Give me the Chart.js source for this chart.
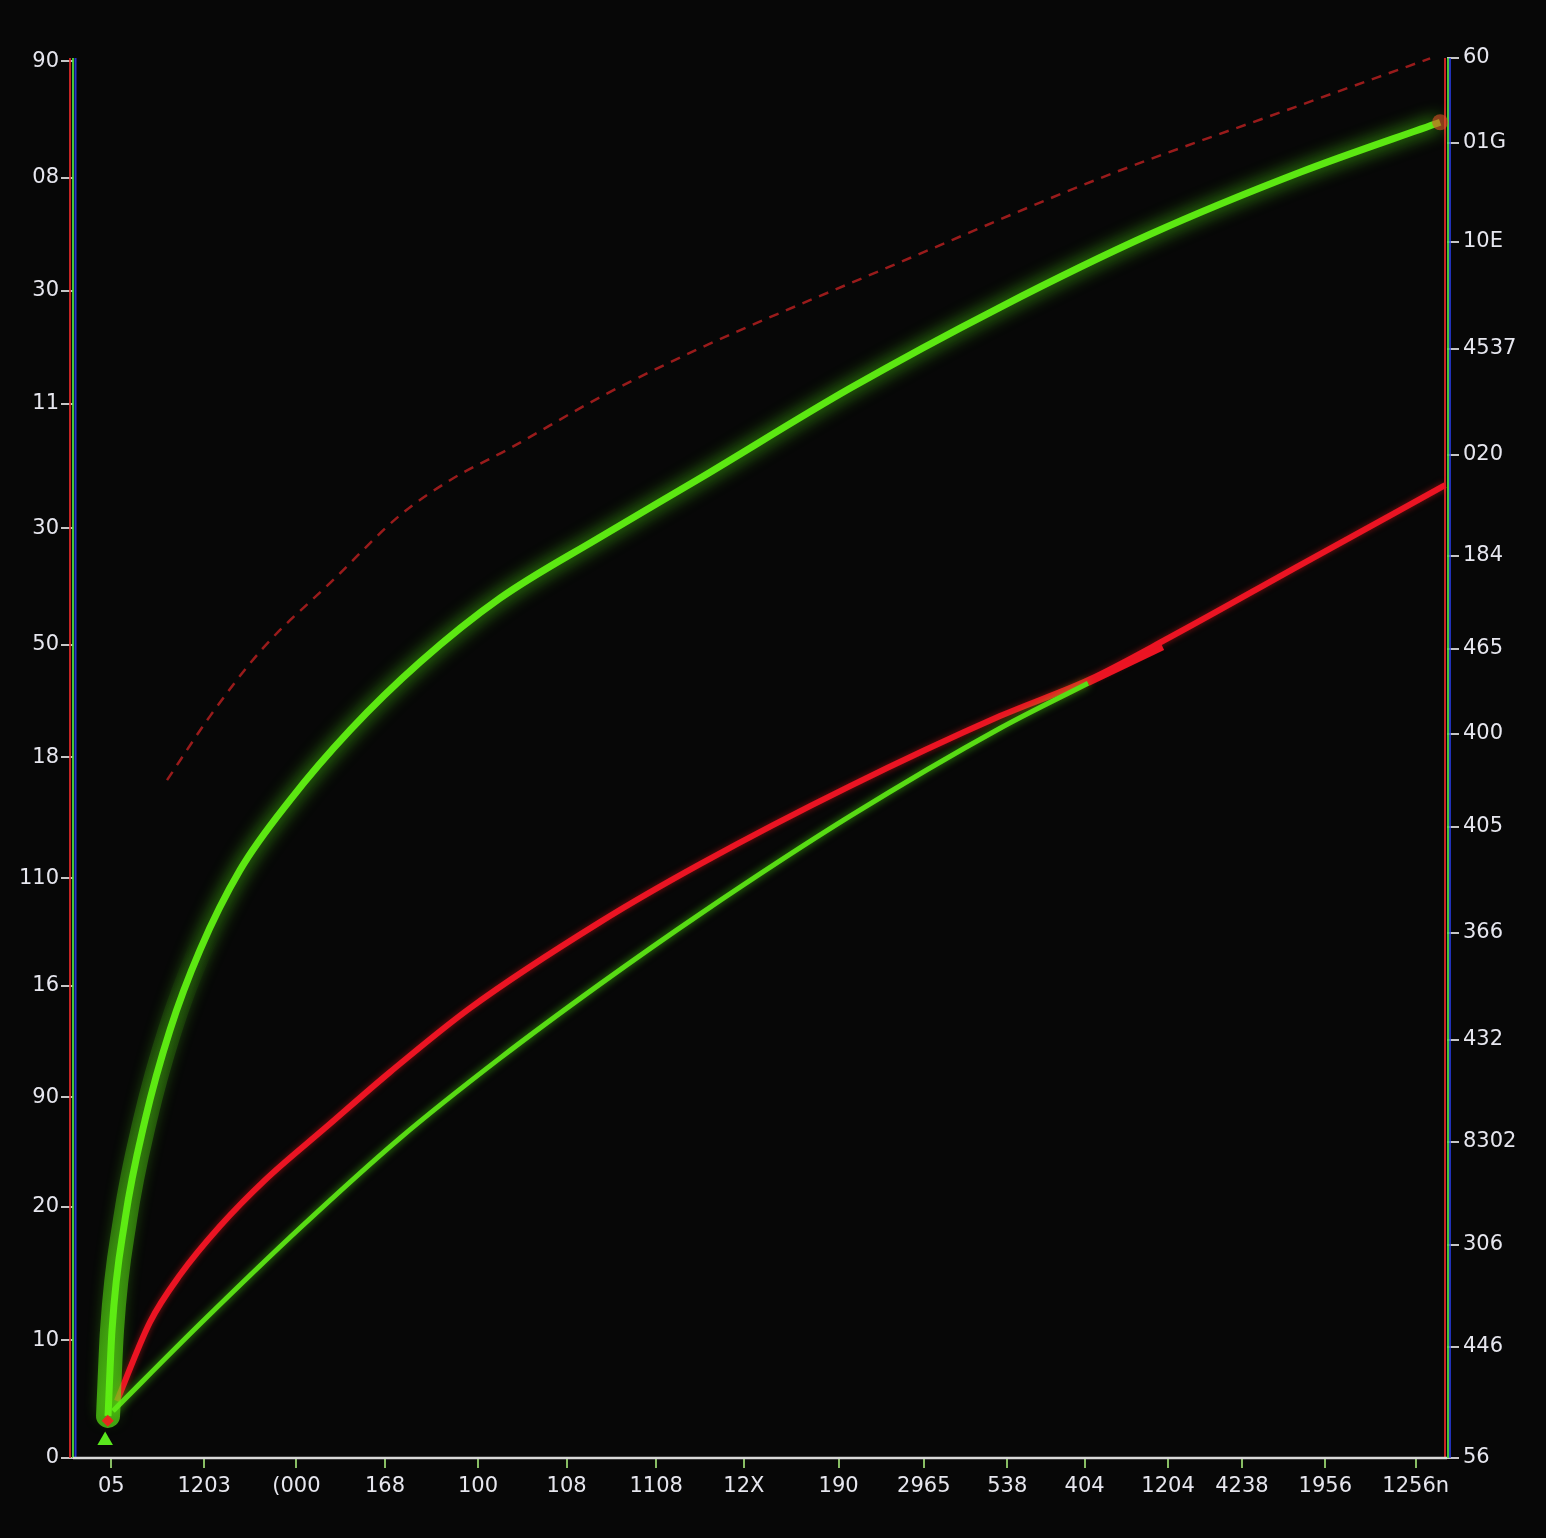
<!DOCTYPE html>
<html><head><meta charset="utf-8">
<script src="https://cdn.jsdelivr.net/npm/chart.js@4/dist/chart.umd.min.js"></script>
<style>html,body{margin:0;padding:0;background:#070707;overflow:hidden}canvas{display:block}</style>
</head><body>
<canvas id="c" width="1546" height="1538"></canvas>
<script>
// ---- tick values & labels ----
const xTickValues = [0, 1.07, 2.13, 3.15, 4.22, 5.24, 6.27, 7.28, 8.37, 9.35, 10.31, 11.2, 12.16, 13.01, 13.97, 15.01];
const xTickLabels = ["05", "1203", "(000", "168", "100", "108", "1108", "12X", "190", "2965", "538", "404", "1204", "4238", "1956", "1256n"];
const yLeftTickValues = [0, 1.01, 2.16, 3.1, 4.06, 4.98, 6.02, 6.99, 7.99, 9.06, 10.03, 11.0, 12.0];
const yLeftTickLabels = ["0", "10", "20", "90", "16", "110", "18", "50", "30", "11", "30", "08", "90"];
const yRightTickValues = [0, 1.11, 2.13, 3.16, 4.18, 5.25, 6.31, 7.24, 8.09, 9.02, 10.03, 11.09, 12.16, 13.15, 14.0];
const yRightTickLabels = ["56", "446", "306", "8302", "432", "366", "405", "400", "465", "184", "020", "4537", "10E", "01G", "60"];

// ---- series ----
const upperGreenX = [-0.037, 0.009, 0.158, 0.389, 0.676, 1.021, 1.482, 2.057, 2.748, 3.553, 4.474, 5.624, 6.775, 8.501, 10.227, 11.954, 13.68, 15.291];
const upperGreenY = [0.361, 1.10, 2.045, 2.904, 3.677, 4.364, 5.052, 5.653, 6.254, 6.838, 7.388, 7.912, 8.419, 9.192, 9.888, 10.515, 11.048, 11.478];

const redX = [0.066, 0.446, 0.791, 1.252, 1.769, 2.46, 3.208, 4.128, 5.624, 6.775, 8.501, 10.227, 11.263, 12.184, 13.68, 15.348];
const redY = [0.49, 1.168, 1.572, 1.993, 2.388, 2.835, 3.316, 3.866, 4.605, 5.103, 5.773, 6.375, 6.692, 7.053, 7.672, 8.359];

const redBranchX = [11.24, 12.10];
const redBranchY = [6.658, 6.967];

const lowerGreenX = [0.02, 1.021, 2.172, 3.323, 4.474, 5.624, 6.775, 8.501, 10.227, 11.24];
const lowerGreenY = [0.404, 1.151, 1.976, 2.749, 3.436, 4.072, 4.674, 5.515, 6.271, 6.658];

const dashedX = [0.642, 1.137, 1.746, 2.552, 3.323, 3.898, 4.589, 5.624, 6.775, 9.077, 11.378, 13.68, 15.176];
const dashedY = [5.825, 6.375, 6.959, 7.543, 8.101, 8.402, 8.677, 9.115, 9.536, 10.275, 10.997, 11.624, 12.027];

const startMarkX = [-0.07, -0.04];
const startMarkY = [0.15, 0.32];

const pts = (xs, ys) => xs.map((x, i) => ({x: x, y: ys[i]}));

const glow = {
  id: 'glow',
  beforeDatasetDraw(chart, args) {
    const ds = chart.data.datasets[args.index];
    if (ds.glowColor) { chart.ctx.save(); chart.ctx.shadowColor = ds.glowColor; chart.ctx.shadowBlur = ds.glowBlur; }
  },
  afterDatasetDraw(chart, args) {
    const ds = chart.data.datasets[args.index];
    if (ds.glowColor) chart.ctx.restore();
  }
};

const axes = {
  id: 'axes',
  beforeDatasetsDraw(chart) {
    const {ctx, chartArea: a} = chart;
    ctx.save();
    ctx.lineWidth = 2;
    const v = (x, c) => { ctx.strokeStyle = c; ctx.beginPath(); ctx.moveTo(x, a.top); ctx.lineTo(x, a.bottom); ctx.stroke(); };
    v(a.left - 3, 'rgba(220,40,40,0.9)'); v(a.left, 'rgba(80,220,60,0.9)'); v(a.left + 2.5, 'rgba(40,60,230,0.9)');
    v(a.right - 2, 'rgba(220,40,40,0.9)'); v(a.right + 1, 'rgba(80,220,60,0.9)'); v(a.right + 3, 'rgba(40,60,230,0.8)');
    ctx.strokeStyle = '#d8d8d8'; ctx.lineWidth = 2.5;
    ctx.beginPath(); ctx.moveTo(a.left, a.bottom); ctx.lineTo(a.right, a.bottom); ctx.stroke();
    ctx.restore();
  }
};

const fadeGlow = (ctx) => {
  const chart = ctx.chart, a = chart.chartArea;
  if (!a) return 'rgba(90,235,20,0.3)';
  const g = chart.ctx.createLinearGradient(0, a.bottom, 0, a.bottom - 520);
  g.addColorStop(0, 'rgba(95,240,20,0.7)');
  g.addColorStop(0.5, 'rgba(95,240,20,0.35)');
  g.addColorStop(1, 'rgba(95,240,20,0)');
  return g;
};

const tickFont = {family: 'DejaVu Sans', size: 21};
const nGlow = 7;

new Chart(document.getElementById('c'), {
  type: 'line',
  data: {
    datasets: [
      {data: pts(dashedX, dashedY), borderColor: 'rgba(170,30,30,0.9)', borderWidth: 2.5, borderDash: [10, 8], yAxisID: 'y', cubicInterpolationMode: 'monotone', pointRadius: 0, clip: false},
      {data: pts(upperGreenX.slice(0, nGlow), upperGreenY.slice(0, nGlow)), borderColor: fadeGlow, borderWidth: 24, borderCapStyle: 'round', yAxisID: 'y', cubicInterpolationMode: 'monotone', pointRadius: 0},
      {data: pts(lowerGreenX, lowerGreenY), borderColor: 'rgb(88,220,20)', borderWidth: 5, yAxisID: 'y', cubicInterpolationMode: 'monotone', pointRadius: 0, glowColor: 'rgba(90,255,20,0.6)', glowBlur: 8},
      {data: pts(redBranchX, redBranchY), borderColor: 'rgb(235,20,35)', borderWidth: 6, yAxisID: 'y', pointRadius: 0},
      {data: pts(redX, redY), borderColor: 'rgb(235,20,35)', borderWidth: 6, yAxisID: 'y', cubicInterpolationMode: 'monotone', pointRadius: 0, glowColor: 'rgba(255,30,30,0.5)', glowBlur: 6},
      {data: pts(upperGreenX, upperGreenY), borderColor: 'rgb(92,232,18)', borderWidth: 7, yAxisID: 'y', cubicInterpolationMode: 'monotone', pointRadius: 0, glowColor: 'rgba(90,255,20,0.9)', glowBlur: 18},
      {data: pts(startMarkX, startMarkY), order: -1, showLine: false, yAxisID: 'y', pointStyle: ['triangle', 'rectRot'], pointRadius: [9, 6], pointBackgroundColor: ['rgb(90,230,30)', 'rgb(230,40,30)'], pointBorderWidth: 0, clip: false},
      {data: [{x: upperGreenX[upperGreenX.length - 1], y: upperGreenY[upperGreenY.length - 1]}], order: -1, showLine: false, yAxisID: 'y', pointRadius: 8, pointBackgroundColor: 'rgba(220,80,40,0.6)', pointBorderWidth: 0, clip: false}
    ]
  },
  options: {
    responsive: false,
    devicePixelRatio: 1,
    animation: false,
    layout: {padding: {top: 58, left: 0, right: 0, bottom: 0}},
    plugins: {legend: {display: false}, tooltip: {enabled: false}},
    scales: {
      x: {
        type: 'linear', min: -0.44, max: 15.37,
        afterBuildTicks: s => { s.ticks = xTickValues.map(v => ({value: v})); },
        afterFit: s => { s.height = 80; },
        ticks: {callback: (v, i) => xTickLabels[i], color: '#e6e6ee', font: tickFont, maxRotation: 0, autoSkip: false, padding: 6},
        grid: {drawOnChartArea: false, drawTicks: true, tickLength: 10, color: 'rgba(150,210,110,0.9)', lineWidth: 2},
        border: {display: false}
      },
      y: {
        type: 'linear', position: 'left', min: 0, max: 12.03,
        afterBuildTicks: s => { s.ticks = yLeftTickValues.map(v => ({value: v})); },
        afterFit: s => { s.width = 73; },
        ticks: {callback: (v, i) => yLeftTickLabels[i], color: '#e6e6ee', font: tickFont, autoSkip: false, padding: 2},
        grid: {drawOnChartArea: false, drawTicks: true, tickLength: 12, color: 'rgba(220,220,220,0.9)', lineWidth: 2},
        border: {display: false}
      },
      y2: {
        type: 'linear', position: 'right', min: 0, max: 14,
        afterBuildTicks: s => { s.ticks = yRightTickValues.map(v => ({value: v})); },
        afterFit: s => { s.width = 99; },
        ticks: {callback: (v, i) => yRightTickLabels[i], color: '#e6e6ee', font: tickFont, autoSkip: false, padding: 4},
        grid: {drawOnChartArea: false, drawTicks: true, tickLength: 12, color: 'rgba(220,220,220,0.9)', lineWidth: 2},
        border: {display: false}
      }
    }
  },
  plugins: [glow, axes]
});
</script>
</body></html>
